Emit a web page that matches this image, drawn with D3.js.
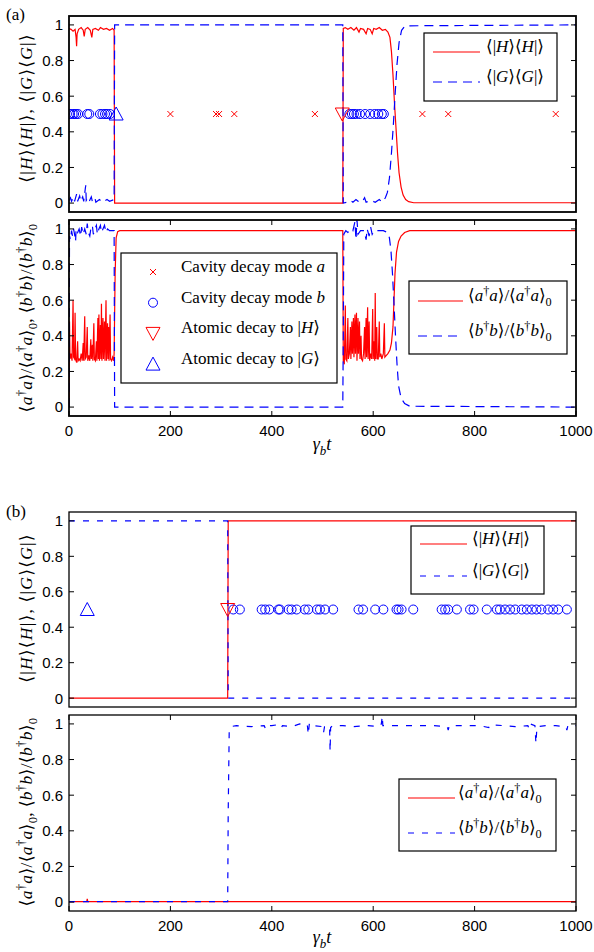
<!DOCTYPE html>
<html>
<head>
<meta charset="utf-8">
<script src="https://cdn.jsdelivr.net/npm/d3@7"></script>
<style>
  body { margin: 0; background: #fff; }
  svg { display: block; }
</style>
</head>
<body>
<svg id="fig" width="594" height="952"></svg>
<script>
// ---- data ----
var xTicks = [0, 200, 400, 600, 800, 1000];
var yTicks = [0, 0.2, 0.4, 0.6, 0.8, 1];

// (a) upper panel: populations
var aPopH = [[0,0.98],[4,0.975],[8,0.965],[12,0.975],[14,0.93],[15,0.88],[16,0.95],[19,0.975],[24,0.985],[28,0.97],[30,0.935],[32,0.975],[37,0.985],[42,0.97],[45,0.93],[47,0.975],[52,0.98],[58,0.97],[62,0.985],[68,0.975],[74,0.98],[80,0.97],[86,0.98],[89,0.97],[90,0.0],[540,0.0],[541,0.98],[545,0.985],[550,0.975],[556,0.985],[562,0.97],[567,0.985],[572,0.96],[575,0.98],[581,0.975],[586,0.95],[589,0.98],[594,0.975],[598,0.95],[601,0.98],[606,0.975],[612,0.985],[618,0.97],[624,0.975],[629,0.96],[633,0.93],[636,0.85],[639,0.72],[642,0.56],[645,0.42],[648,0.28],[651,0.17],[655,0.09],[659,0.045],[664,0.02],[670,0.008],[680,0.002],[1000,0.002]];
var aPopG = [[0,0.015],[3,0.03],[5,0.01],[9,0.035],[11,0.01],[15,0.05],[17,0.01],[21,0.04],[23,0.01],[27,0.035],[29,0.01],[33,0.1],[34,0.015],[37,0.03],[40,0.01],[44,0.035],[46,0.01],[51,0.03],[53,0.005],[60,0.02],[66,0.005],[75,0.02],[80,0.01],[89,0.02],[90,1.0],[540,1.0],[541,0.0],[548,0.005],[555,0.015],[560,0.005],[566,0.02],[570,0.01],[578,0.005],[583,0.03],[586,0.005],[596,0.015],[604,0.005],[612,0.02],[618,0.005],[624,0.03],[628,0.06],[632,0.14],[636,0.28],[640,0.45],[643,0.6],[647,0.78],[651,0.9],[656,0.97],[663,0.995],[1000,1.0]];
var aCavA = [200, 290, 296, 326, 485, 697, 748, 960];
var aCavB = [2, 7, 10, 14, 18, 36, 40, 61, 66, 71, 75, 81, 553, 558, 562, 567, 574, 584, 594, 603, 610, 617, 621];
var aDecH = [539];
var aDecG = [93];

// (a) lower panel: photon numbers
var aNumA = [[0,0],[1,0.48],[2,0.27],[4,0.3],[6,0.26],[8,0.6],[9,0.28],[11,0.27],[12,0.53],[13,0.27],[15,0.25],[17,0.37],[18,0.26],[20,0.27],[22,0.26],[24,0.3],[26,0.26],[28,0.36],[29,0.26],[31,0.51],[32,0.27],[34,0.28],[36,0.45],[37,0.26],[39,0.29],[41,0.26],[43,0.38],[44,0.27],[46,0.35],[47,0.26],[49,0.47],[50,0.27],[52,0.26],[54,0.37],[55,0.26],[57,0.5],[58,0.27],[59,0.52],[60,0.26],[62,0.46],[63,0.27],[64,0.58],[65,0.26],[67,0.5],[68,0.27],[70,0.48],[71,0.26],[73,0.6],[74,0.26],[76,0.47],[77,0.27],[78,0.45],[79,0.26],[81,0.52],[82,0.27],[84,0.26],[86,0.28],[88,0.26],[89,0.3],[91,0.75],[93,0.95],[96,0.985],[100,0.99],[540,0.99],[541,0.26],[543,0.24],[545,0.57],[546,0.27],[548,0.26],[550,0.5],[551,0.27],[553,0.3],[555,0.45],[556,0.27],[558,0.48],[559,0.3],[561,0.5],[562,0.28],[564,0.52],[565,0.3],[567,0.53],[568,0.26],[570,0.5],[571,0.3],[573,0.48],[574,0.27],[576,0.4],[577,0.27],[579,0.26],[581,0.3],[583,0.45],[584,0.27],[586,0.5],[587,0.28],[589,0.56],[590,0.27],[592,0.48],[593,0.26],[595,0.3],[597,0.27],[599,0.55],[600,0.27],[602,0.37],[603,0.26],[604,0.64],[605,0.27],[607,0.45],[608,0.27],[610,0.27],[612,0.48],[613,0.28],[615,0.3],[617,0.27],[620,0.3],[622,0.47],[623,0.28],[626,0.29],[629,0.3],[633,0.32],[636,0.36],[639,0.45],[641,0.6],[643,0.75],[646,0.87],[650,0.93],[655,0.96],[662,0.98],[672,0.99],[1000,0.99]];
var aNumB = [[0,0],[1,0.96],[3,0.94],[5,0.99],[7,0.96],[9,1.0],[11,0.97],[13,0.93],[14,1.0],[17,0.98],[20,1.0],[23,0.96],[25,1.01],[28,0.97],[31,1.0],[34,0.97],[36,1.03],[38,0.98],[41,0.96],[43,1.0],[46,1.02],[48,0.97],[51,1.0],[54,1.02],[56,0.97],[59,1.0],[62,1.02],[64,0.98],[67,1.0],[70,1.02],[73,0.98],[76,1.0],[80,0.99],[89,0.99],[90,0.0],[540,0.0],[541,0.4],[542,0.97],[546,0.99],[550,0.98],[556,1.0],[560,0.99],[564,1.04],[566,0.94],[568,1.05],[570,0.97],[575,0.99],[582,0.99],[586,0.94],[588,1.0],[592,0.96],[595,1.01],[598,0.97],[602,0.99],[610,0.99],[620,0.99],[628,0.98],[632,0.95],[635,0.88],[638,0.75],[641,0.58],[644,0.4],[647,0.24],[650,0.12],[655,0.05],[662,0.02],[672,0.005],[1000,0.0]];

// (b) upper panel
var bPopH = [[0,0],[313,0],[314,1],[1000,1]];
var bPopG = [[0,1],[313,1],[314,0],[1000,0]];
var bCavB = [324,337,380,387,395,413,416,433,439,449,465,472,489,495,505,521,571,580,604,620,646,650,656,679,735,742,748,765,791,798,824,844,850,860,870,880,893,903,913,922,932,945,955,965,982];
var bDecH = [313];
var bDecG = [36];

// (b) lower panel
var bNumA = [[0,0.003],[35,0.003],[36,0.018],[37,0.003],[1000,0.003]];
var bNumB = [[0,0.003],[313,0.003],[314,0.5],[316,0.96],[319,0.985],[330,0.99],[360,0.985],[385,0.99],[388,0.97],[391,0.99],[400,0.99],[410,0.995],[418,0.975],[421,0.99],[440,0.985],[455,1.0],[466,0.99],[470,0.995],[472,0.94],[474,1.0],[476,0.985],[480,0.99],[500,0.985],[502,0.95],[504,0.985],[508,0.99],[514,0.985],[515,0.845],[516,0.98],[520,0.99],[540,0.99],[560,0.985],[590,0.99],[612,0.985],[616,1.0],[618,1.045],[619,0.99],[640,0.99],[680,0.99],[720,0.99],[746,0.985],[748,0.965],[750,0.99],[780,0.99],[810,0.99],[828,0.98],[830,0.995],[860,0.99],[880,0.985],[905,0.99],[908,0.97],[910,1.0],[919,0.99],[921,0.89],[923,0.985],[940,0.99],[960,0.99],[980,0.985],[982,0.965],[984,0.99],[1000,0.99]];

// ---- text pieces ----
var labPop = [['⟨|'],['H','i'],['⟩⟨'],['H','i'],['|⟩, ⟨|'],['G','i'],['⟩⟨'],['G','i'],['|⟩']];
var labNum = [['⟨'],['a','i'],['†','^'],['a','i'],['⟩/⟨'],['a','i'],['†','^'],['a','i'],['⟩'],['0','_'],[', ⟨'],['b','i'],['†','^'],['b','i'],['⟩/⟨'],['b','i'],['†','^'],['b','i'],['⟩'],['0','_']];
var labX = [['γ','i'],['b','_i'],['t','i']];
var legH = [['⟨|'],['H','i'],['⟩⟨'],['H','i'],['|⟩']];
var legG = [['⟨|'],['G','i'],['⟩⟨'],['G','i'],['|⟩']];
var legA = [['⟨'],['a','i'],['†','^'],['a','i'],['⟩/⟨'],['a','i'],['†','^'],['a','i'],['⟩'],['0','_']];
var legB = [['⟨'],['b','i'],['†','^'],['b','i'],['⟩/⟨'],['b','i'],['†','^'],['b','i'],['⟩'],['0','_']];

var serif = 'Liberation Serif, DejaVu Serif, serif';
var sans = 'Liberation Sans, Arial, sans-serif';

var svg = d3.select('#fig');
svg.append('rect').attr('width', 594).attr('height', 952).attr('fill', '#fff');

var x = d3.scaleLinear().domain([0, 1000]).range([69, 576]);

// write text with italic / sub / superscript pieces
function rich(t, parts, size) {
    var shift = 0;
    parts.forEach(function (p) {
        var st = p[1] || '';
        var target = 0, fs = size;
        if (st.indexOf('_') >= 0) { target = 0.28 * size; fs = 0.72 * size; }
        if (st.indexOf('^') >= 0) { target = -0.38 * size; fs = 0.72 * size; }
        var ts = t.append('tspan').text(p[0])
            .style('font-family', serif)
            .attr('font-size', fs)
            .attr('dy', target - shift);
        if (st.indexOf('i') >= 0) ts.attr('font-style', 'italic');
        shift = target;
    });
    return t;
}

function panel(id, top, bottom, frameW, dash, withX) {
    var y = d3.scaleLinear().domain([-0.05, 1.05]).range([bottom, top]);
    var g = svg.append('g');
    svg.append('clipPath').attr('id', id).append('rect')
        .attr('x', 69).attr('y', top).attr('width', 507).attr('height', bottom - top);
    var plot = g.append('g').attr('clip-path', 'url(#' + id + ')');

    // y ticks inside, both sides
    var ticks = g.append('g');
    yTicks.forEach(function (v) {
        ticks.append('line').attr('x1', 69).attr('x2', 74).attr('y1', y(v)).attr('y2', y(v));
        ticks.append('line').attr('x1', 571).attr('x2', 576).attr('y1', y(v)).attr('y2', y(v));
        g.append('text').attr('x', 63).attr('y', y(v)).attr('dy', '0.36em')
            .attr('text-anchor', 'end').style('font-family', sans).attr('font-size', 15)
            .text(d3.format('~g')(v));
    });
    if (withX) {
        xTicks.forEach(function (v) {
            ticks.append('line').attr('x1', x(v)).attr('x2', x(v)).attr('y1', bottom).attr('y2', bottom - 5);
            ticks.append('line').attr('x1', x(v)).attr('x2', x(v)).attr('y1', top).attr('y2', top + 5);
            g.append('text').attr('x', x(v)).attr('y', bottom + 20)
                .attr('text-anchor', 'middle').style('font-family', sans).attr('font-size', 15)
                .text(v);
        });
    }
    ticks.selectAll('line').attr('stroke', '#000').attr('stroke-width', 1);

    return { g: g, plot: plot, y: y, top: top, bottom: bottom, frameW: frameW, dash: dash };
}

function series(p, data, color, dashed) {
    var line = d3.line().x(function (d) { return x(d[0]); }).y(function (d) { return p.y(d[1]); });
    p.plot.append('path').datum(data)
        .attr('fill', 'none').attr('stroke', color).attr('stroke-width', 1.2)
        .attr('stroke-dasharray', dashed ? p.dash : null)
        .attr('d', line);
}

function marker(sel, kind, cx, cy) {
    if (kind === 'x') {
        sel.append('path').attr('d', 'M' + (cx - 3) + ',' + (cy - 3) + 'L' + (cx + 3) + ',' + (cy + 3) +
            'M' + (cx - 3) + ',' + (cy + 3) + 'L' + (cx + 3) + ',' + (cy - 3))
            .attr('stroke', 'red').attr('stroke-width', 1).attr('fill', 'none');
    } else if (kind === 'o') {
        sel.append('circle').attr('cx', cx).attr('cy', cy).attr('r', 4.5)
            .attr('fill', 'none').attr('stroke', 'blue').attr('stroke-width', 1);
    } else if (kind === 'v') {
        sel.append('path').attr('d', 'M' + (cx - 7) + ',' + (cy - 6) + 'L' + (cx + 7) + ',' + (cy - 6) + 'L' + cx + ',' + (cy + 7) + 'Z')
            .attr('fill', 'none').attr('stroke', 'red').attr('stroke-width', 1);
    } else {
        sel.append('path').attr('d', 'M' + (cx - 7) + ',' + (cy + 6) + 'L' + (cx + 7) + ',' + (cy + 6) + 'L' + cx + ',' + (cy - 7) + 'Z')
            .attr('fill', 'none').attr('stroke', 'blue').attr('stroke-width', 1);
    }
}

function markers(p, ts, kind) {
    ts.forEach(function (t) { marker(p.plot, kind, x(t), p.y(0.5)); });
}

function frame(p) {
    p.g.append('rect').attr('x', 69).attr('y', p.top).attr('width', 507).attr('height', p.bottom - p.top)
        .attr('fill', 'none').attr('stroke', '#000').attr('stroke-width', p.frameW);
}

var fsLeg = 17;

function lineLegend(p, bx, by, bw, bh, x1, x2, tx, rows) {
    var lg = p.g.append('g');
    lg.append('rect').attr('x', bx).attr('y', by).attr('width', bw).attr('height', bh)
        .attr('fill', '#fff').attr('stroke', '#000').attr('stroke-width', 1.2);
    rows.forEach(function (r) {
        lg.append('line').attr('x1', x1).attr('x2', x2).attr('y1', r.y).attr('y2', r.y)
            .attr('stroke', r.color).attr('stroke-width', 1.2)
            .attr('stroke-dasharray', r.dashed ? p.dash : null);
        rich(lg.append('text').attr('x', tx).attr('y', r.y).attr('dy', '0.33em')
            .attr('font-size', fsLeg), r.label, fsLeg);
    });
}

function yLabel(parts, cy, ls) {
    rich(svg.append('text').attr('transform', 'translate(32,' + cy + ') rotate(-90)')
        .attr('text-anchor', 'middle').attr('letter-spacing', ls).attr('font-size', 17.5), parts, 17.5);
}

function xLabel(yy) {
    rich(svg.append('text').attr('x', 322).attr('y', yy).attr('text-anchor', 'middle')
        .attr('font-size', 18), labX, 18);
}

// ---- (a) ----
var pa1 = panel('ca1', 16, 212, 1.8, '9,6', false);
series(pa1, aPopH, 'red', false);
series(pa1, aPopG, 'blue', true);
markers(pa1, aCavA, 'x');
markers(pa1, aCavB, 'o');
markers(pa1, aDecH, 'v');
markers(pa1, aDecG, '^');
frame(pa1);
lineLegend(pa1, 424, 33, 133, 68, 433, 480, 486, [
    { y: 52, color: 'red', dashed: false, label: legH },
    { y: 82, color: 'blue', dashed: true, label: legG }
]);

var pa2 = panel('ca2', 220, 416, 1.8, '9,6', true);
series(pa2, aNumA, 'red', false);
series(pa2, aNumB, 'blue', true);
frame(pa2);
lineLegend(pa2, 409, 281, 158, 73, 418, 463, 468, [
    { y: 301, color: 'red', dashed: false, label: legA },
    { y: 336, color: 'blue', dashed: true, label: legB }
]);

// marker legend
var ml = pa2.g.append('g');
ml.append('rect').attr('x', 121).attr('y', 253).attr('width', 216).attr('height', 130)
    .attr('fill', '#fff').attr('stroke', '#000').attr('stroke-width', 1.2);
var mRows = [
    { kind: 'x', label: [['Cavity decay mode '], ['a', 'i']] },
    { kind: 'o', label: [['Cavity decay mode '], ['b', 'i']] },
    { kind: 'v', label: [['Atomic decay to |'], ['H', 'i'], ['⟩']] },
    { kind: '^', label: [['Atomic decay to |'], ['G', 'i'], ['⟩']] }
];
mRows.forEach(function (r, i) {
    var yy = 272 + i * 30.7;
    marker(ml, r.kind, 153, yy);
    rich(ml.append('text').attr('x', 181).attr('y', yy).attr('dy', '0.33em')
        .attr('font-size', fsLeg), r.label, fsLeg);
});

yLabel(labPop, 108, 1.2);
yLabel(labNum, 318, 0.3);
xLabel(450);

// ---- (b) ----
var pb1 = panel('cb1', 512, 707, 1.3, '6,8', false);
series(pb1, bPopH, 'red', false);
series(pb1, bPopG, 'blue', true);
markers(pb1, bCavB, 'o');
markers(pb1, bDecH, 'v');
markers(pb1, bDecG, '^');
frame(pb1);
lineLegend(pb1, 411, 526, 133, 68, 420, 467, 472, [
    { y: 544, color: 'red', dashed: false, label: legH },
    { y: 576, color: 'blue', dashed: true, label: legG }
]);

var pb2 = panel('cb2', 715, 911, 1.3, '6,8', true);
series(pb2, bNumA, 'red', false);
series(pb2, bNumB, 'blue', true);
frame(pb2);
lineLegend(pb2, 399, 779, 157, 72, 408, 455, 458, [
    { y: 798, color: 'red', dashed: false, label: legA },
    { y: 833, color: 'blue', dashed: true, label: legB }
]);

yLabel(labPop, 608, 1.2);
yLabel(labNum, 812, 0.3);
xLabel(943);

// panel tags
svg.append('text').attr('x', 6).attr('y', 20).style('font-family', serif).attr('font-size', 17).text('(a)');
svg.append('text').attr('x', 6).attr('y', 517).style('font-family', serif).attr('font-size', 17).text('(b)');
</script>
</body>
</html>
